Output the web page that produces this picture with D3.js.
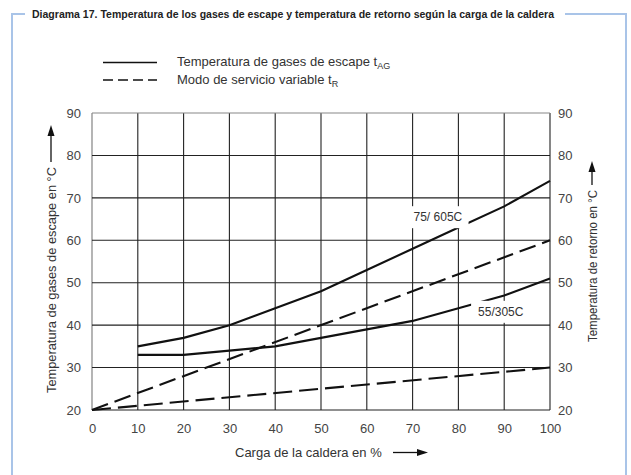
<!DOCTYPE html>
<html><head><meta charset="utf-8">
<script src="https://cdn.jsdelivr.net/npm/d3@7"></script>
<style>body{margin:0;background:#fff}svg{display:block}text{font-family:"Liberation Sans",Arial,sans-serif}</style>
</head><body>
<svg id="c" width="631" height="475"></svg>
<script>
const title = "Diagrama 17. Temperatura de los gases de escape y temperatura de retorno según la carga de la caldera";
const xTicks = [0,10,20,30,40,50,60,70,80,90,100];
const yTicks = [20,30,40,50,60,70,80,90];
const loadPct = [10,20,30,40,50,60,70,80,90,100];
const exhaust7560 = [35,37,40,44,48,53,58,63,68,74];
const exhaust5530 = [33,33,34,35,37,39,41,44,47,51];
const returnLoad = [0,100];
const return7560 = [20,60];
const return5530 = [20,30];
const labels = [{t:"75/ 605C", x:70.2, y:64.5}, {t:"55/305C", x:84.3, y:42.2}];

const svg = d3.select("#c");
const x = d3.scaleLinear().domain([0,100]).range([92,550]);
const y = d3.scaleLinear().domain([20,90]).range([410,113]);
const frame = "#a9c4e8";

// outer frame
svg.append("path").attr("d","M12,475 L12,14 L25,14").attr("fill","none").attr("stroke",frame).attr("stroke-width",2);
svg.append("path").attr("d","M565,14 L626,14 L626,475").attr("fill","none").attr("stroke",frame).attr("stroke-width",2);
svg.append("text").attr("x",32).attr("y",17.5).attr("font-size",10).attr("font-weight","bold")
  .attr("textLength",522).attr("lengthAdjust","spacingAndGlyphs").attr("fill","#222").text(title);

// grid
const g = svg.append("g");
xTicks.forEach(v => g.append("line").attr("x1",x(v)).attr("x2",x(v)).attr("y1",y(20)).attr("y2",y(90))
  .attr("stroke", v===0 ? "#777" : "#222").attr("stroke-width",1.1));
yTicks.forEach(v => g.append("line").attr("x1",x(0)).attr("x2",x(100)).attr("y1",y(v)).attr("y2",y(v))
  .attr("stroke", v===90 ? "#888" : "#222").attr("stroke-width",1.1));

// axes labels via d3 axes
const tickStyle = sel => { sel.select(".domain").remove(); sel.selectAll("line").remove();
  sel.selectAll("text").attr("font-size",13).attr("fill","#444").style("font-family","'Liberation Sans',Arial,sans-serif"); };
svg.append("g").attr("transform",`translate(${x(0)},0)`).call(d3.axisLeft(y).tickValues(yTicks).tickSize(0).tickPadding(11)).call(tickStyle);
svg.append("g").attr("transform",`translate(${x(100)},0)`).call(d3.axisRight(y).tickValues(yTicks).tickSize(0).tickPadding(8)).call(tickStyle);
svg.append("g").attr("transform",`translate(0,${y(20)})`).call(d3.axisBottom(x).tickValues(xTicks).tickSize(0).tickPadding(14)).call(tickStyle);

// lines
const line = d3.line().x(d=>x(d[0])).y(d=>y(d[1]));
const lw = 2.1;
const plot = svg.append("g");
plot.append("path").datum(returnLoad.map((v,i)=>[v,return7560[i]])).attr("d",line).attr("fill","none").attr("stroke","#111").attr("stroke-width",lw).attr("stroke-dasharray","17,7");
plot.append("path").datum(returnLoad.map((v,i)=>[v,return5530[i]])).attr("d",line).attr("fill","none").attr("stroke","#111").attr("stroke-width",lw).attr("stroke-dasharray","19,7");
plot.append("path").datum(loadPct.map((v,i)=>[v,exhaust7560[i]])).attr("d",line).attr("fill","none").attr("stroke","#111").attr("stroke-width",lw);
plot.append("path").datum(loadPct.map((v,i)=>[v,exhaust5530[i]])).attr("d",line).attr("fill","none").attr("stroke","#111").attr("stroke-width",lw);

// curve labels with white backgrounds
labels.forEach(l => {
  const lg = svg.append("g");
  const r = lg.append("rect").attr("fill","#fff");
  const t = lg.append("text").attr("x",x(l.x)).attr("y",y(l.y)).attr("font-size",12).attr("fill","#333").text(l.t);
  const b = t.node().getBBox();
  r.attr("x",b.x-7).attr("y",b.y-4).attr("width",b.width+13).attr("height",b.height+8);
});

// legend
svg.append("line").attr("x1",103).attr("x2",157).attr("y1",62.5).attr("y2",62.5).attr("stroke","#111").attr("stroke-width",1.5);
svg.append("line").attr("x1",103).attr("x2",157).attr("y1",80).attr("y2",80).attr("stroke","#111").attr("stroke-width",1.5).attr("stroke-dasharray","10,5");
const l1 = svg.append("text").attr("x",177).attr("y",66).attr("font-size",13).attr("fill","#333");
l1.append("tspan").text("Temperatura de gases de escape t");
l1.append("tspan").attr("font-size",9).attr("dy",3).text("AG");
const l2 = svg.append("text").attr("x",177).attr("y",84).attr("font-size",13).attr("fill","#333");
l2.append("tspan").text("Modo de servicio variable t");
l2.append("tspan").attr("font-size",9).attr("dy",3).text("R");

// axis titles
svg.append("text").attr("transform","translate(56,393) rotate(-90)").attr("font-size",13).attr("fill","#333")
  .attr("textLength",226).attr("lengthAdjust","spacingAndGlyphs")
  .text("Temperatura de gases de escape en °C");
svg.append("line").attr("x1",51).attr("x2",51).attr("y1",162).attr("y2",133).attr("stroke","#111").attr("stroke-width",1.3);
svg.append("path").attr("d","M51,125 L47.5,136 L54.5,136 Z").attr("fill","#111");

svg.append("text").attr("transform","translate(597,342) rotate(-90)").attr("font-size",13).attr("fill","#333")
  .attr("textLength",152).attr("lengthAdjust","spacingAndGlyphs")
  .text("Temperatura de retorno en °C");
svg.append("line").attr("x1",592).attr("x2",592).attr("y1",185).attr("y2",170).attr("stroke","#111").attr("stroke-width",1.3);
svg.append("path").attr("d","M592,161 L588.5,172 L595.5,172 Z").attr("fill","#111");

svg.append("text").attr("x",235).attr("y",457).attr("font-size",13).attr("fill","#333").text("Carga de la caldera en %");
svg.append("line").attr("x1",393).attr("x2",420).attr("y1",452.5).attr("y2",452.5).attr("stroke","#111").attr("stroke-width",1.3);
svg.append("path").attr("d","M428,452.5 L417,449 L417,456 Z").attr("fill","#111");
</script>
</body></html>
